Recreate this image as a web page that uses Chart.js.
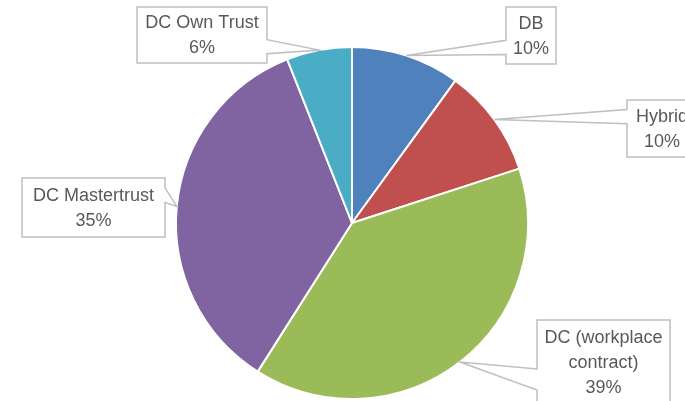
<!DOCTYPE html>
<html>
<head>
<meta charset="utf-8">
<title>Scheme types</title>
<script src="https://cdn.jsdelivr.net/npm/chart.js@4.4.1/dist/chart.umd.min.js"></script>
<style>
  html, body { margin: 0; padding: 0; background: #fff; }
  #wrap { width: 685px; height: 401px; overflow: hidden; }
</style>
</head>
<body>
<div id="wrap"><canvas id="pie" width="685" height="401"></canvas></div>
<script>
// Scheme types, share of members (%)
const categories = ['DB', 'Hybrid', 'DC (workplace contract)', 'DC Mastertrust', 'DC Own Trust'];
const shares = [10, 10, 39, 35, 6];
// how each category label wraps inside its callout
const labelLines = [['DB'], ['Hybrid'], ['DC (workplace', 'contract)'], ['DC Mastertrust'], ['DC Own Trust']];
const sliceColors = ['#4F81BD', '#C0504D', '#9BBB59', '#8064A2', '#4BACC6'];

// callout boxes: x, y, w, h
const calloutBoxes = [
  [506, 7, 50, 57],
  [627, 100, 70, 57],
  [537, 320, 133, 84],
  [22, 178, 143, 59],
  [137, 7, 130, 56],
];

// rectangle with a wedge pointing at (tx, ty), like an Excel data callout
function calloutPath(ctx, bx, by, bw, bh, tx, ty) {
  const cy = by + bh / 2;
  const f = ty > cy ? [7 / 12, 10 / 12] : [2 / 12, 5 / 12];
  const y1 = by + bh * f[0], y2 = by + bh * f[1];
  const r = bx + bw, b = by + bh;
  ctx.beginPath();
  ctx.moveTo(bx, by);
  ctx.lineTo(r, by);
  if (tx > r) {
    ctx.lineTo(r, y1);
    ctx.lineTo(tx, ty);
    ctx.lineTo(r, y2);
  }
  ctx.lineTo(r, b);
  ctx.lineTo(bx, b);
  if (tx < bx) {
    ctx.lineTo(bx, y2);
    ctx.lineTo(tx, ty);
    ctx.lineTo(bx, y1);
  }
  ctx.closePath();
}

const callouts = {
  id: 'callouts',
  afterDatasetsDraw(chart) {
    const ctx = chart.ctx;
    const meta = chart.getDatasetMeta(0);
    ctx.save();
    meta.data.forEach((arc, i) => {
      const p = arc.getProps(['x', 'y', 'startAngle', 'endAngle', 'outerRadius'], true);
      const mid = (p.startAngle + p.endAngle) / 2;
      const tx = p.x + Math.cos(mid) * p.outerRadius;
      const ty = p.y + Math.sin(mid) * p.outerRadius;
      const [bx, by, bw, bh] = calloutBoxes[i];

      calloutPath(ctx, bx, by, bw, bh, tx, ty);
      ctx.fillStyle = '#fff';
      ctx.fill();
      ctx.strokeStyle = '#BFBFBF';
      ctx.lineWidth = 1.5;
      ctx.lineJoin = 'miter';
      ctx.stroke();

      const lines = labelLines[i].concat([shares[i] + '%']);
      const lh = 25;
      const top = by + bh / 2 + 1 - (lines.length - 1) * lh / 2;
      ctx.fillStyle = '#595959';
      ctx.font = '18px "Liberation Sans", Arial, sans-serif';
      ctx.textAlign = 'center';
      ctx.textBaseline = 'middle';
      lines.forEach((t, k) => ctx.fillText(t, bx + bw / 2, top + k * lh));
    });
    ctx.restore();
  },
};

new Chart(document.getElementById('pie'), {
  type: 'pie',
  data: {
    labels: categories,
    datasets: [{
      data: shares,
      backgroundColor: sliceColors,
      borderColor: '#fff',
      borderWidth: 2,
      hoverOffset: 0,
    }],
  },
  options: {
    responsive: false,
    animation: false,
    events: [],
    layout: { padding: { left: 175, right: 156, top: 45, bottom: 0 } },
    plugins: {
      legend: { display: false },
      tooltip: { enabled: false },
    },
  },
  plugins: [callouts],
});
</script>
</body>
</html>
